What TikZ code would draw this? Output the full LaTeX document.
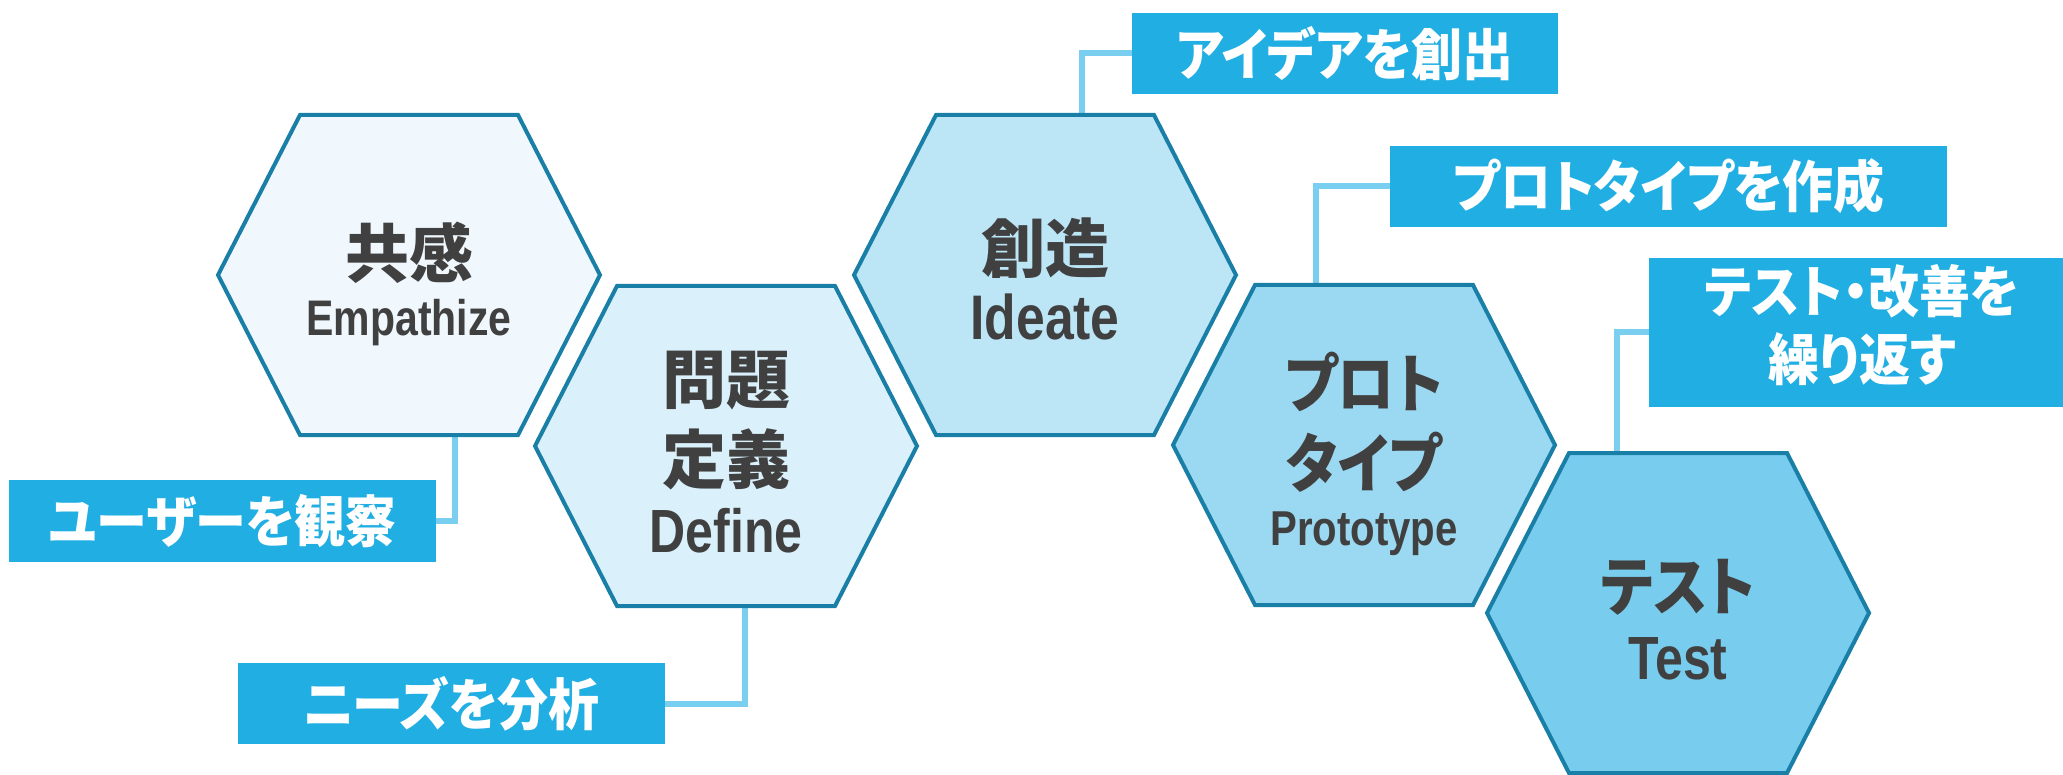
\documentclass[tikz,border=0pt]{standalone}
\usepackage{fontspec}
\setmainfont{Liberation Sans}
\newfontfamily\jpfont[RawFeature=+palt]{Noto Sans CJK JP}
\newfontfamily\latfont{Liberation Sans}
\definecolor{hexline}{HTML}{1A7FA7}
\definecolor{boxblue}{HTML}{20AEE3}
\definecolor{connblue}{HTML}{7ACFF0}
\definecolor{txtgray}{HTML}{404040}
\definecolor{fillA}{HTML}{F0F8FD}
\definecolor{fillB}{HTML}{DAF0FA}
\definecolor{fillC}{HTML}{BCE5F6}
\definecolor{fillD}{HTML}{9AD9F1}
\definecolor{fillE}{HTML}{78CDEE}
\newcommand\hexagonat[2]{\draw[hexa,fill=#2,shift={(#1)}] (-191,0) -- (-109,-160) -- (109,-160) -- (191,0) -- (109,160) -- (-109,160) -- cycle;}
\newcommand\engtext[2]{\scalebox{0.82}[1]{\latfont\bfseries\fontsize{#1}{#1}\selectfont #2}}
\newcommand\boxtext[1]{\scalebox{0.91}[1]{\raisebox{-4pt}{#1}}}
\newcommand\kanatext[1]{\scalebox{0.89}[1]{#1}}
\begin{document}
\begin{tikzpicture}[x=1pt,y=-1pt,
  hexa/.style={draw=hexline,line width=4pt,line join=miter},
  lbl/.style={fill=boxblue,text=white,inner sep=0pt,align=center,
    font=\jpfont\bfseries\fontsize{56}{66}\selectfont},
  conn/.style={draw=connblue,line width=6pt},
  ttl/.style={text=txtgray,anchor=base,inner sep=0pt,
    font=\jpfont\bfseries\fontsize{64}{70}\selectfont},
  eng/.style={text=txtgray,anchor=base,inner sep=0pt}]
\useasboundingbox (0,0) rectangle (2063,775);
% hexagon centres
\coordinate (h1) at (409,275);
\coordinate (h2) at (726,446);
\coordinate (h3) at (1045,275);
\coordinate (h4) at (1364,445);
\coordinate (h5) at (1678,613);
% connector ends on hexagons
\coordinate (c1) at (455,435);
\coordinate (c2) at (745,607);
\coordinate (c3) at (1082,115);
\coordinate (c4) at (1316,285);
\coordinate (c5) at (1617,453);
% label boxes
\node[lbl,minimum width=427pt,minimum height=82pt] (b1) at (222.5,521) {\boxtext{ユーザーを観察}};
\node[lbl,minimum width=427pt,minimum height=81pt] (b2) at (451.5,703.5) {\boxtext{ニーズを分析}};
\node[lbl,minimum width=426pt,minimum height=81pt] (b3) at (1345,53.5) {\boxtext{アイデアを創出}};
\node[lbl,minimum width=557pt,minimum height=81pt] (b4) at (1668.5,186.5) {\boxtext{プロトタイプを作成}};
\node[lbl,minimum width=426pt,minimum height=149pt] (b5) at (1862,332.5) {\scalebox{0.91}[1]{\begin{tabular}{@{}c@{}}テスト・改善を\\繰り返す\end{tabular}}};
% connectors
\draw[conn] (c1) |- (b1.east);
\draw[conn] (c2) |- (b2.east);
\draw[conn] (c3) |- (b3.west);
\draw[conn] (c4) |- (b4.west);
\draw[conn] (c5) |- (b5.west);
% hexagons
\hexagonat{h1}{fillA}
\hexagonat{h2}{fillB}
\hexagonat{h3}{fillC}
\hexagonat{h4}{fillD}
\hexagonat{h5}{fillE}
% titles
\node[ttl] (t1a) at (409,278) {共感};
\node[eng] (t1b) at (409,336) {\engtext{50}{Empathize}};
\node[ttl] (t2a) at (726,403) {問題};
\node[ttl] (t2b) at (726,483) {定義};
\node[eng] (t2c) at (726,552) {\engtext{61}{Define}};
\node[ttl] (t3a) at (1045,273) {創造};
\node[eng] (t3b) at (1045,340) {\engtext{63}{Ideate}};
\node[ttl] (t4a) at (1364,407) {\kanatext{プロト}};
\node[ttl] (t4b) at (1364,487) {\kanatext{タイプ}};
\node[eng] (t4c) at (1364,545) {\engtext{49}{Prototype}};
\node[ttl] (t5a) at (1678,610) {\kanatext{テスト}};
\node[eng] (t5b) at (1678,679) {\engtext{61}{Test}};
\end{tikzpicture}
\end{document}
